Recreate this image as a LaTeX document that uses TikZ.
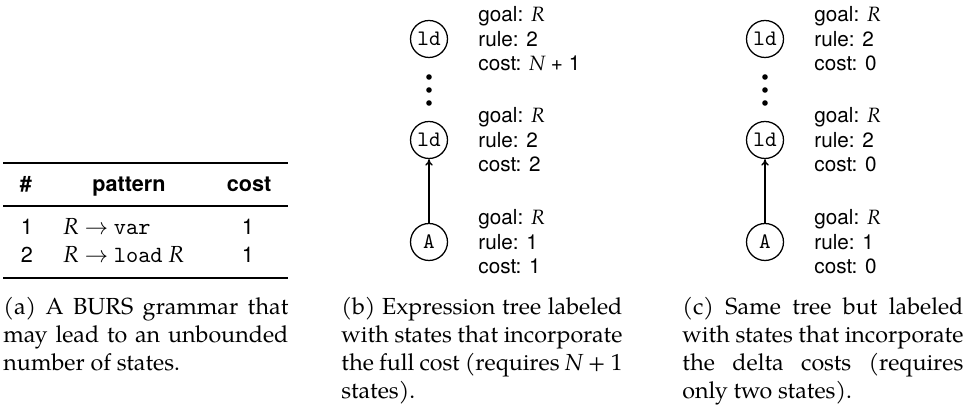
\documentclass[tikz,border=0pt]{standalone}
\usepackage{fontspec}
\setmainfont{texgyrepagella}[Extension=.otf, UprightFont=*-regular, ItalicFont=*-italic, BoldFont=*-bold, BoldItalicFont=*-bolditalic]
\setsansfont{TeX Gyre Heros}
\usetikzlibrary{arrows.meta}
\newcommand{\vR}{{\rmfamily\itshape R}}
\newcommand{\vN}{{\rmfamily\itshape N}}
\newcommand{\capfont}{\rmfamily\fontsize{10}{12}\selectfont\hyphenpenalty=10000\exhyphenpenalty=10000}
\begin{document}
\begin{tikzpicture}[x=0.43pt,y=-0.43pt,
  treenode/.style={circle, draw, line width=0.55pt, minimum size=15.9pt, inner sep=0pt, font=\ttfamily\fontsize{9.5}{10}\selectfont},
  lbl/.style={anchor=west, align=left, inner sep=0pt, font=\sffamily\fontsize{8.9}{10.5}\selectfont},
  tab/.style={anchor=base, inner sep=0pt, font=\sffamily\fontsize{9.3}{11}\selectfont},
  tabhead/.style={tab, font=\sffamily\bfseries\fontsize{9.3}{11}\selectfont},
  tabpat/.style={anchor=base west, inner sep=0pt, font=\rmfamily\fontsize{10}{12}\selectfont},
  captxt/.style={anchor=base west, inner sep=0pt},
  vdot/.style={circle, fill, inner sep=0pt, minimum size=2.4pt},
  conn/.style={-{To[length=2.8pt,width=3.2pt]}, line width=0.55pt}]
\useasboundingbox (0,0) rectangle (967,413);

% ---- (a) table ----
\draw[line width=0.8pt] (3,163) coordinate (tl) -- (288,163) coordinate (tr);
\node[tabhead] (h1) at (26,192) {\#};
\node[tabhead] (h2) at (129,192) {pattern};
\node[tabhead] (h3) at (249,192) {cost};
\draw[line width=0.5pt] (3,206) coordinate (ml) -- (288,206) coordinate (mr);
\node[tab] (r1n) at (27,235) {1};
\node[tabpat] (r1p) at (63,235) {\vR\ $\rightarrow$ {\ttfamily var}};
\node[tab] (r1c) at (248,235) {1};
\node[tab] (r2n) at (27,263) {2};
\node[tabpat] (r2p) at (63,263) {\vR\ $\rightarrow$ {\ttfamily load} \vR};
\node[tab] (r2c) at (248,263) {1};
\draw[line width=0.8pt] (3,278) coordinate (bl) -- (288,278) coordinate (br);

\node[captxt] (capa) at (3,315) {\parbox[t]{122.5pt}{\capfont (a) A BURS grammar that may lead to an unbounded number of states.}};

% ---- (b) tree ----
\node[treenode] (b1) at (429,39) {ld};
\node[vdot] (bd1) at (429,77) {};
\node[vdot] (bd2) at (429,90) {};
\node[vdot] (bd3) at (429,103) {};
\node[treenode] (b2) at (429,140) {ld};
\node[treenode] (b3) at (429,242) {A};
\draw[conn] (b3) -- (b2);
\node[lbl] (lb1) at (478,39) {goal: \vR\\rule: 2\\cost: \vN\ + 1};
\node[lbl] (lb2) at (478,140) {goal: \vR\\rule: 2\\cost: 2};
\node[lbl] (lb3) at (478,242) {goal: \vR\\rule: 1\\cost: 1};
\node[captxt] (capb) at (341,315) {\parbox[t]{120.8pt}{\capfont (b) Expression tree labeled with states that incorporate the full cost (requires \vN\ + 1 states).}};

% ---- (c) tree ----
\node[treenode] (c1) at (765,39) {ld};
\node[vdot] (cd1) at (765,77) {};
\node[vdot] (cd2) at (765,90) {};
\node[vdot] (cd3) at (765,103) {};
\node[treenode] (c2) at (765,140) {ld};
\node[treenode] (c3) at (765,242) {A};
\draw[conn] (c3) -- (c2);
\node[lbl] (lc1) at (814,39) {goal: \vR\\rule: 2\\cost: 0};
\node[lbl] (lc2) at (814,140) {goal: \vR\\rule: 2\\cost: 0};
\node[lbl] (lc3) at (814,242) {goal: \vR\\rule: 1\\cost: 0};
\node[captxt] (capc) at (682,315) {\parbox[t]{120.8pt}{\capfont (c) Same tree but labeled with states that incorporate the delta costs (requires only two states).}};
\end{tikzpicture}
\end{document}
